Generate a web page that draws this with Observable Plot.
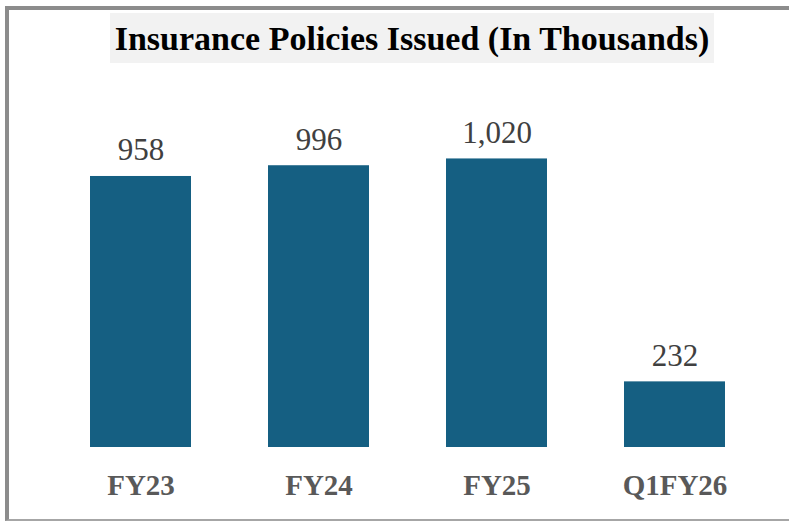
<!DOCTYPE html>
<html>
<head>
<meta charset="utf-8">
<script src="https://cdn.jsdelivr.net/npm/d3@7"></script>
<script src="https://cdn.jsdelivr.net/npm/@observablehq/plot@0.6"></script>
<style>
  html, body { margin: 0; padding: 0; background: #fff; }
  #wrap { position: relative; width: 789px; height: 521px; overflow: hidden; background: #fff; }
  #frame { position: absolute; left: 5px; top: 6px; width: 800px; height: 515px;
           border-top: 4px solid #8c8c8c; border-left: 4px solid #8c8c8c; border-bottom: 2px solid #a6a6a6; box-sizing: border-box; }
  #title { position: absolute; left: 110px; top: 13px; width: 604px; height: 50px; background: #f2f2f2;
           font-family: "Liberation Serif", serif; font-weight: bold; font-size: 34px; color: #000;
           display: flex; align-items: center; justify-content: center; white-space: nowrap; padding-top: 2px; box-sizing: border-box; }
  #chart { position: absolute; left: 0; top: 0; }
</style>
</head>
<body>
<div id="wrap">
  <div id="frame"></div>
  <div id="title">Insurance Policies Issued (In Thousands)</div>
  <div id="chart"></div>
</div>
<script>
const categories = ["FY23", "FY24", "FY25", "Q1FY26"];
const values = [958, 996, 1020, 232];
const valueLabels = ["958", "996", "1,020", "232"];

const data = categories.map((c, i) => ({cat: c, value: values[i], label: valueLabels[i]}));

const plot = Plot.plot({
  width: 789,
  height: 521,
  marginLeft: 51,
  marginRight: 26,
  marginTop: 0,
  marginBottom: 74,
  style: {background: "transparent", overflow: "visible"},
  x: {domain: categories, range: [51, 764], paddingInner: 0.43, paddingOuter: 0.215, label: null},
  y: {domain: [0, 1100], range: [447, 447 - 0.2829 * 1100], axis: null},
  marks: [
    Plot.barY(data, {x: "cat", y: "value", fill: "#155f82"}),
    Plot.ruleY([0], {x1: 51, x2: 764, stroke: "#d9d9d9", strokeWidth: 2, dy: 1}),
    Plot.text(data, {x: "cat", y: "value", text: "label", dy: -26, fontSize: 31,
      fontFamily: "Liberation Serif, serif", fill: "#404040"}),
    Plot.axisX({tickSize: 0, tickPadding: 27, fontSize: 29, fontWeight: "bold",
      fontFamily: "Liberation Serif, serif", fill: "#595959", label: null})
  ]
});
document.getElementById("chart").appendChild(plot);
</script>
</body>
</html>
